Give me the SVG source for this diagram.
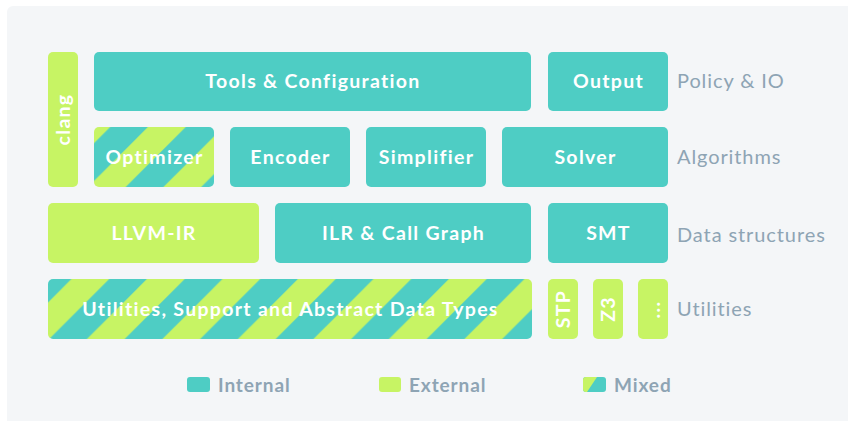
<svg xmlns="http://www.w3.org/2000/svg" width="848" height="421" viewBox="0 0 848 421">
<style>
.int{fill:#4ecdc4}
.ext{fill:#c7f464}
.mix{fill:url(#stripes)}
.lbl{font-family:Lato,"Open Sans","Liberation Sans",sans-serif;font-weight:bold;font-size:19.5px;fill:#ffffff;text-anchor:middle;letter-spacing:1.3px}
.layer{font-family:Lato,"Open Sans","Liberation Sans",sans-serif;font-size:20px;fill:#8ea4b4;letter-spacing:0.9px}
.leg{font-family:Lato,"Open Sans","Liberation Sans",sans-serif;font-weight:bold;font-size:19px;fill:#8ea4b4;letter-spacing:0.9px}
</style>
<defs>
<pattern id="stripes" patternUnits="userSpaceOnUse" x="0" y="0" width="75.5" height="75.5">
<rect width="75.5" height="75.5" fill="#4ecdc4"/>
<polygon points="0,0 10.75,0 0,10.75" fill="#c7f464"/>
<polygon points="48.5,0 75.5,0 75.5,10.75 10.75,75.5 0,75.5 0,48.5" fill="#c7f464"/>
<polygon points="75.5,48.5 75.5,75.5 48.5,75.5" fill="#c7f464"/>
</pattern>
<clipPath id="mixclip"><rect x="583" y="377" width="23" height="15" rx="3"/></clipPath>
</defs>
<rect x="7" y="6" width="850" height="430" rx="6" fill="#f4f6f8"/>

<g id="clang"><rect class="ext" x="48" y="52" width="30" height="135" rx="5"/><text class="lbl" transform="translate(70,119.5) rotate(-90)">clang</text></g>
<g id="tools"><rect class="int" x="94" y="52" width="437" height="59" rx="5"/><text class="lbl" x="313" y="88">Tools &amp; Configuration</text></g>
<g id="output"><rect class="int" x="548" y="52" width="120" height="59" rx="5"/><text class="lbl" x="608.5" y="88">Output</text></g>

<g id="optimizer"><rect class="mix" x="94" y="127" width="120" height="60" rx="5"/><text class="lbl" x="154.5" y="163.5">Optimizer</text></g>
<g id="encoder"><rect class="int" x="230" y="127" width="120" height="60" rx="5"/><text class="lbl" x="290.5" y="163.5">Encoder</text></g>
<g id="simplifier"><rect class="int" x="366" y="127" width="120" height="60" rx="5"/><text class="lbl" x="426.5" y="163.5">Simplifier</text></g>
<g id="solver"><rect class="int" x="502" y="127" width="166" height="60" rx="5"/><text class="lbl" x="585.5" y="163.5">Solver</text></g>

<g id="llvm"><rect class="ext" x="48" y="203" width="211" height="60" rx="5"/><text class="lbl" x="154" y="239.5">LLVM-IR</text></g>
<g id="ilr"><rect class="int" x="275" y="203" width="256" height="60" rx="5"/><text class="lbl" x="403.5" y="239.5">ILR &amp; Call Graph</text></g>
<g id="smt"><rect class="int" x="548" y="203" width="120" height="60" rx="5"/><text class="lbl" x="608.5" y="239.5">SMT</text></g>

<g id="utilities"><rect class="mix" x="48" y="279" width="484" height="60" rx="5"/><text class="lbl" x="290.5" y="315.5">Utilities, Support and Abstract Data Types</text></g>
<g id="stp"><rect class="ext" x="548" y="279" width="30" height="60" rx="5"/><text class="lbl" transform="translate(570,309) rotate(-90)">STP</text></g>
<g id="z3"><rect class="ext" x="593" y="279" width="30" height="60" rx="5"/><text class="lbl" transform="translate(615,309) rotate(-90)">Z3</text></g>
<g id="more"><rect class="ext" x="638" y="279" width="30" height="60" rx="5"/><text class="lbl" transform="translate(659.5,309.5) rotate(-90)">...</text></g>

<g id="layers">
<text class="layer" x="677" y="88">Policy &amp; IO</text>
<text class="layer" x="677" y="163.5">Algorithms</text>
<text class="layer" x="677" y="241.5">Data structures</text>
<text class="layer" x="677" y="316">Utilities</text>
</g>

<g id="legend">
<rect class="int" x="187" y="377" width="23" height="15" rx="3"/>
<text class="leg" x="218" y="391.5">Internal</text>
<rect class="ext" x="379" y="377" width="22" height="15" rx="3"/>
<text class="leg" x="409" y="391.5">External</text>
<g clip-path="url(#mixclip)"><rect class="int" x="583" y="377" width="23" height="15"/><polygon class="ext" points="583,377 597,377 587,392 583,392"/></g>
<text class="leg" x="614" y="391.5">Mixed</text>
</g>
<g id="connectors"/>
</svg>
